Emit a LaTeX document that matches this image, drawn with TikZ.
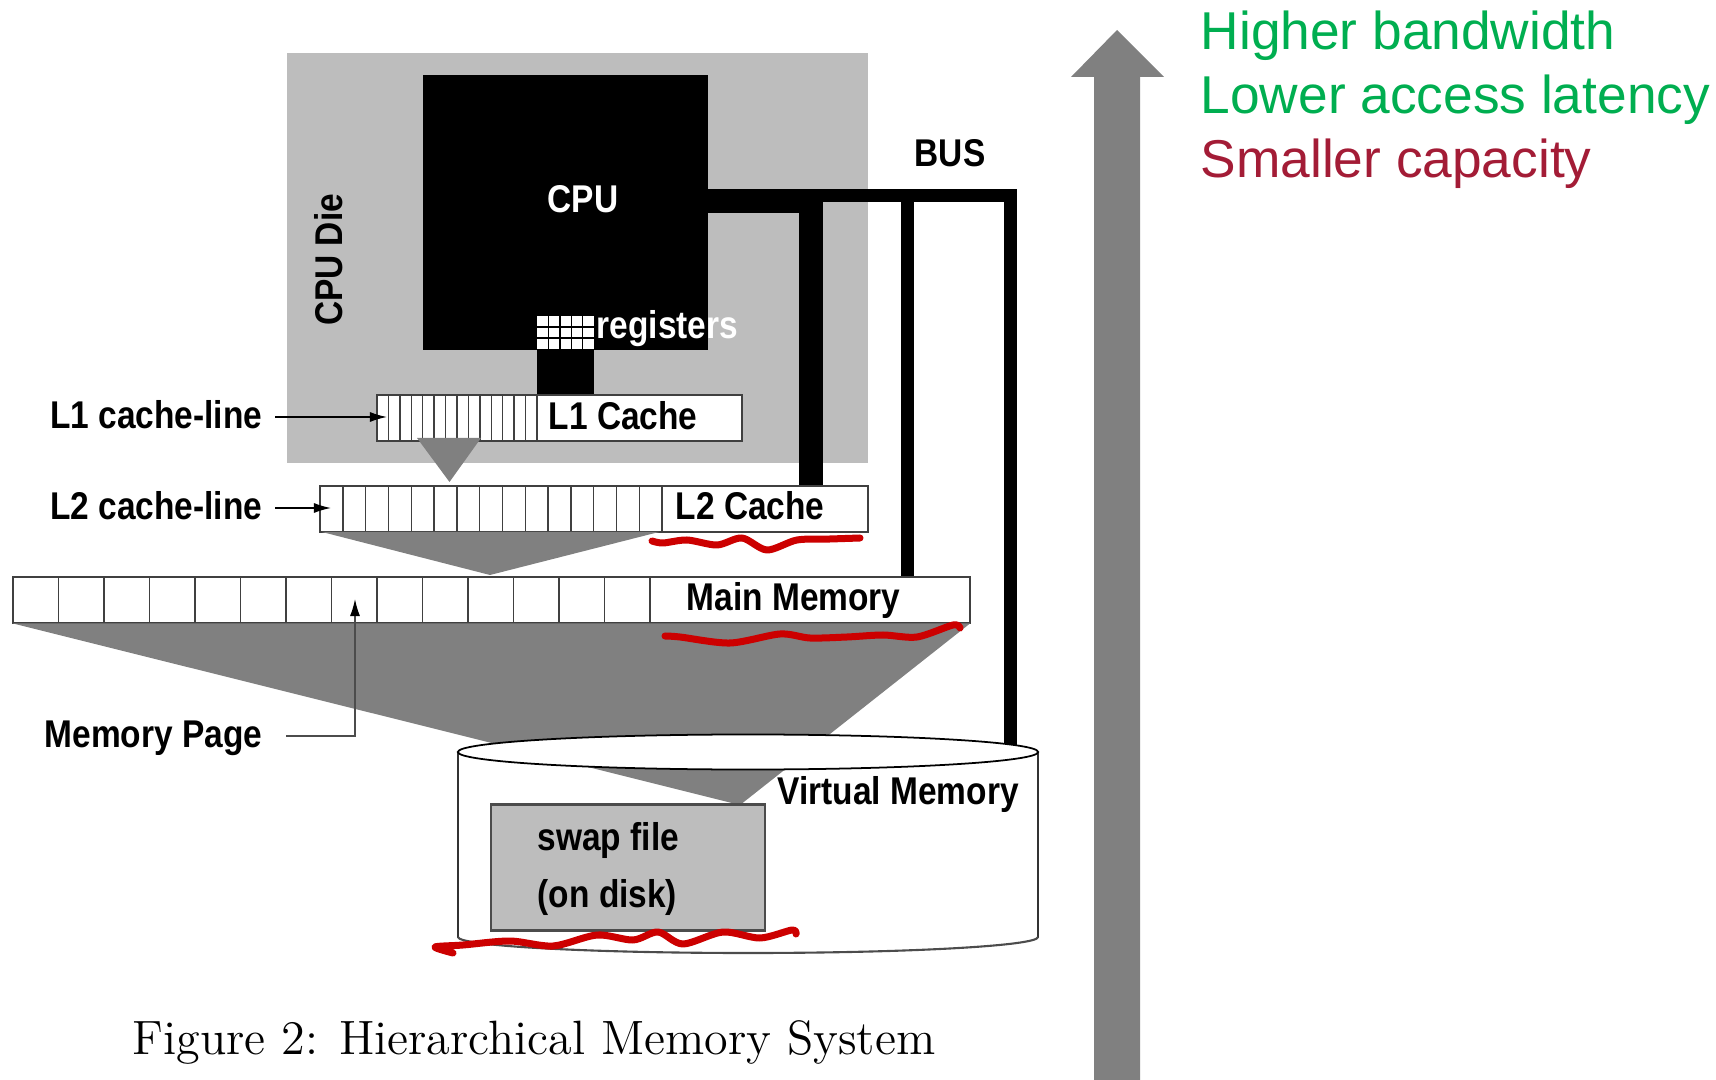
\documentclass[tikz,border=0pt]{standalone}
\usepackage{fontspec}
\usetikzlibrary{shapes.geometric, arrows.meta}
\newfontfamily\figfont[FakeStretch=.865]{Liberation Sans}
\newfontfamily\notefont{Liberation Sans}
\definecolor{diegray}{HTML}{BDBDBD}
\definecolor{funnelgray}{HTML}{808080}
\definecolor{goodgreen}{HTML}{00AE50}
\definecolor{badred}{HTML}{A31C36}
\definecolor{inkred}{HTML}{CC0000}
\tikzset{
    box/.style={draw=black!75, fill=white, line width=0.5pt, inner sep=0pt},
    figtext/.style={inner sep=0pt, font=\figfont\bfseries\fontsize{11}{13}\selectfont},
    linelabel/.style={figtext, anchor=east, text height=0.3cm, text depth=0.07cm},
    note/.style={inner sep=0pt, anchor=base west, font=\notefont\fontsize{15.15}{18}\selectfont},
    pointer/.style={-{Latex[length=1.7mm, width=1mm]}, line width=0.4pt},
    fatbus/.style={line width=2.4mm},
    thinbus/.style={line width=1.3mm},
    squiggle/.style={inkred, line width=0.7mm, line cap=round, line join=round},
}
\begin{document}
\begin{tikzpicture}[x=0.01cm, y=-0.01cm]
        \useasboundingbox (0, 0) rectangle (1716, 1080);
        % die and cpu
        \fill[diegray] (287, 53) rectangle (868, 463);
        \node[figtext, rotate=90] (dielabel) at (329, 260) {CPU Die};
        \node[fill=black, minimum width=2.85cm, minimum height=2.74cm, inner sep=0pt] (cpu) at (565.5, 212.5) {};
        \node[figtext, text=white] (cpulabel) at (583, 199) {CPU};
        \fill[black] (537, 349) rectangle (594, 395);
        \fill[white] (537, 316) rectangle (594, 349);
        \foreach \i in {1,...,4} {
            \draw[black, line width=0.4pt] (537+11.4*\i, 316) -- (537+11.4*\i, 349);
        }
        \foreach \i in {1,2} {
            \draw[black, line width=0.4pt] (537, 316+11*\i) -- (594, 316+11*\i);
        }
        \node[figtext, text=white, anchor=base west] (reglabel) at (596, 339) {registers};
        % caches and memory
        \node[box, minimum width=3.65cm, minimum height=0.46cm] (lonecache) at (559.5, 418) {};
        \foreach \i in {1,...,14} {
            \draw[black!75, line width=0.4pt] (377+11.43*\i, 395) -- (377+11.43*\i, 441);
        }
        \node[figtext, anchor=base west] (lonetext) at (548, 430) {L1 Cache};
        \fill[funnelgray] (417, 438) -- (481, 438) -- (449.5, 482) -- cycle;
        \node[box, minimum width=5.48cm, minimum height=0.46cm] (ltwocache) at (594, 509) {};
        \foreach \i in {1,...,15} {
            \draw[black!75, line width=0.4pt] (320+22.8*\i, 486) -- (320+22.8*\i, 532);
        }
        \node[figtext, anchor=base west] (ltwotext) at (675, 520) {L2 Cache};
        \fill[funnelgray] (322, 532) -- (659, 532) -- (490, 575) -- cycle;
        \node[box, minimum width=9.57cm, minimum height=0.46cm] (mainmem) at (491.5, 600) {};
        \foreach \i in {1,...,14} {
            \draw[black!75, line width=0.4pt] (13+45.5*\i, 577) -- (13+45.5*\i, 623);
        }
        \node[figtext, anchor=base west] (maintext) at (686, 611) {Main Memory};
        \fill[funnelgray] (13, 623.5) -- (970, 623.5) -- (740, 805) -- cycle;
        % bus
        \coordinate (busstart) at (708, 195.5);
        \coordinate (fatstart) at (708, 201);
        \coordinate (fatturn) at (811, 201);
        \coordinate (midturn) at (907, 195.5);
        \coordinate (busturn) at (1010, 195.5);
        \draw[fatbus] (fatstart) -- (fatturn) -- (fatturn |- ltwocache.north);
        \draw[thinbus] (midturn) -- (midturn |- mainmem.north);
        \draw[thinbus] (busstart) -- (busturn) -- (1010, 750);
        \node[figtext, anchor=base west] (buslabel) at (914, 167) {BUS};
        % disk
        \draw[black!80, line width=0.4pt] (458, 752) -- (458, 938);
        \draw[black!80, line width=0.4pt] (1038, 752) -- (1038, 938);
        \draw[black!70, line width=0.6pt] (458, 937) arc[start angle=180, end angle=0, x radius=290, y radius=16];
        \node[ellipse, draw=black, fill=white, line width=0.5pt, minimum width=5.8cm, minimum height=0.35cm, inner sep=0pt] (disktop) at (748, 752) {};
        \node[draw=black!70, fill=diegray, line width=0.6pt, minimum width=2.73cm, minimum height=1.26cm, inner sep=0pt] (swap) at (628, 867.5) {};
        \node[figtext, anchor=base west] (swaptext) at (537, 850) {swap file};
        \node[figtext, anchor=base west] (disktext) at (537, 907) {(on disk)};
        \node[figtext, anchor=base west] (virttext) at (777, 804) {Virtual Memory};
        % side labels
        \node[linelabel] (lonelabel) at (263, 417) {L1 cache-line};
        \node[linelabel] (ltwolabel) at (263, 508) {L2 cache-line};
        \node[linelabel] (pagelabel) at (263, 736) {Memory Page};
        \coordinate (lonetip) at (387, 417);
        \coordinate (ltwotip) at (331, 508);
        \coordinate (pagetip) at (355, 599);
        \draw[pointer] ([xshift=0.12cm]lonelabel.east) -- (lonetip);
        \draw[pointer] ([xshift=0.12cm]ltwolabel.east) -- (ltwotip);
        \draw[pointer, draw=black!70, -{Latex[length=1.7mm, width=1mm, black]}] ([xshift=0.23cm]pagelabel.east) -| (pagetip);
        % caption
        \node[inner sep=0pt, anchor=base west, font=\fontsize{13.7}{17}\selectfont] (caption) at (132, 1054) {Figure 2: Hierarchical Memory System};
        % ink under the storage levels
        \draw[squiggle] plot[smooth] coordinates {(652,541) (663,543) (687,540) (717,545) (742,538) (767,550) (797,540) (830,539) (860,538)};
        \draw[squiggle] plot[smooth] coordinates {(665,636) (680,637) (730,643) (780,634) (810,638) (847,637) (883,635) (917,637) (953,625) (960,628)};
        \draw[squiggle] plot[smooth] coordinates {(453,953) (435,947) (463,945) (510,941) (553,946) (597,935) (633,940) (658,932) (683,944) (723,932) (760,938) (792,930) (796,934)};
        % speed arrow and notes
        \fill[funnelgray] (1094, 1080) -- (1094, 77) -- (1071, 77) -- (1117, 30) -- (1164, 77) -- (1140, 77) -- (1140, 1080) -- cycle;
        \node[note, text=goodgreen] (highband) at (1200, 50) {Higher bandwidth};
        \node[note, text=goodgreen] (lowlat) at (1200, 114) {Lower access latency};
        \node[note, text=badred] (smallcap) at (1200, 178) {Smaller capacity};
    \end{tikzpicture}
\end{document}
